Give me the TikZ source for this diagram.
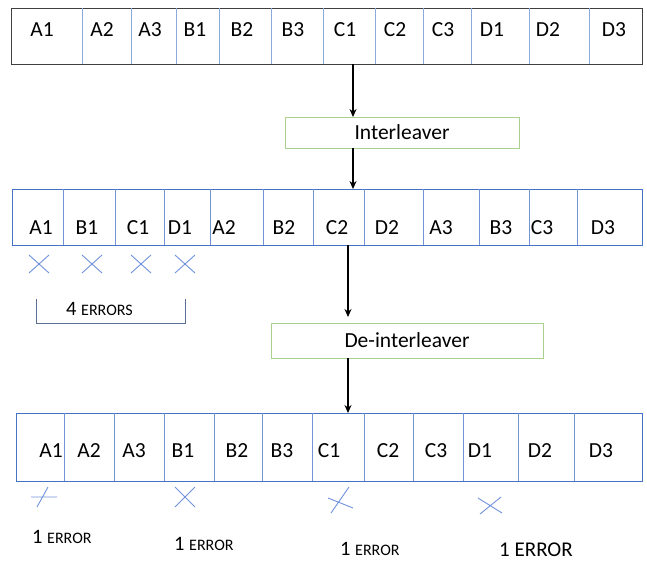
\documentclass[tikz,border=0pt]{standalone}
\usepackage{fontspec}
\setmainfont{Carlito}
\usetikzlibrary{arrows.meta}
\definecolor{frameA}{HTML}{404040}
\definecolor{divA}{HTML}{8EAADB}
\definecolor{frameB}{HTML}{4472C4}
\definecolor{divB}{HTML}{7393D4}
\definecolor{crossC}{HTML}{7092DB}
\definecolor{brackC}{HTML}{5B6F96}
\definecolor{greenC}{HTML}{A9D08E}
\tikzset{
  rowA/.style={draw=frameA, line width=1pt, inner sep=0pt, outer sep=0pt},
  rowB/.style={draw=frameB, line width=0.8pt, inner sep=0pt, outer sep=0pt},
  dividerA/.style={draw=divA, line width=0.8pt},
  dividerB/.style={draw=divB, line width=0.8pt},
  cell/.style={anchor=base, inner sep=0pt, font=\fontsize{21.5}{25}\selectfont},
  procbox/.style={draw=greenC, line width=1pt, inner sep=0pt, outer sep=0pt, font=\fontsize{21.5}{25}\selectfont},
  arr/.style={draw=black, line width=1.2pt, -{Stealth[length=8pt,width=7pt]}},
  xmark/.style={draw=crossC, line width=0.9pt},
  bracket/.style={draw=brackC, line width=0.9pt},
  errlbl/.style={anchor=base west, inner sep=0pt, font=\fontsize{20.5}{24}\selectfont},
}
\newcommand{\smallerr}[1]{{\fontsize{16}{19}\selectfont #1}}
\begin{document}
\begin{tikzpicture}[x=1pt,y=-1pt]
\useasboundingbox (0,0) rectangle (647,562);

% Row 1 (original)
\node[rowA, minimum width=631pt, minimum height=56pt] (r1) at (326.5,36) {};
\foreach \x in {82,131,176,219,271,323,375,423,471,529,589}
  \draw[dividerA] (\x,8) -- (\x,64);
\foreach \x/\t in {42/A1,102/A2,150/A3,195/B1,242/B2,293/B3,345/C1,395/C2,443/C3,492/D1,548/D2,614/D3}
  \node[cell] (r1-\t) at (\x,36) {\t};

% Interleaver
\node[procbox, minimum width=234pt, minimum height=31pt] (il) at (402,132.5) {Interleaver};

% Row 2 (interleaved)
\node[rowB, minimum width=630pt, minimum height=56pt] (r2) at (327,217) {};
\foreach \x in {63,115,164,210,263,313,364,423,479,529,577}
  \draw[dividerB] (\x,189) -- (\x,245);
\foreach \x/\t in {41/A1,87/B1,138/C1,180/D1,224/A2,284/B2,337/C2,387/D2,441/A3,501/B3,542/C3,603/D3}
  \node[cell] (r2-\t) at (\x,234) {\t};

% De-interleaver
\node[procbox, minimum width=272pt, minimum height=35pt] (dil) at (407,340.5) {De-interleaver};

% Row 3 (de-interleaved)
\node[rowB, minimum width=626pt, minimum height=68pt] (r3) at (329,447) {};
\foreach \x in {64,114,164,214,262,312,364,413,463,518,574}
  \draw[dividerB] (\x,413) -- (\x,481);
\foreach \x/\t in {51/A1,89/A2,134/A3,183/B1,237/B2,282/B3,329/C1,388/C2,436/C3,480/D1,540/D2,601/D3}
  \node[cell] (r3-\t) at (\x,457) {\t};

% Arrows
\coordinate (ax1) at (353,64);
\coordinate (ax2) at (348,245);
\draw[arr] (ax1) -- (ax1 |- il.north);
\draw[arr] (il.south -| ax1) -- (ax1 |- r2.north);
\draw[arr, shorten >=6pt] (ax2) -- (ax2 |- dil.north);
\draw[arr] (dil.south -| ax2) -- (ax2 |- r3.north);

% Burst errors under row 2
\foreach \x in {39,92,141,185}
  \draw[xmark] (\x,264) +(-10,-9) -- +(10,9) +(-10,9) -- +(10,-9);
\draw[bracket] (36,299) -- (36,323) -- (185,323) -- (185,299);
\node[errlbl] (e4) at (66,315) {4 \smallerr{ERRORS}};

% Scattered errors under row 3
\draw[xmark] (31,497) -- (57,497) (37,507) -- (48,487);
\draw[xmark] (185,497) +(-10,-10) -- +(10,10) +(-10,10) -- +(10,-10);
\draw[xmark] (328,498) -- (353,508) (331,513) -- (349,487);
\draw[xmark] (478,498) -- (502,513) (480,514) -- (501,497);

\node[errlbl] (e1a) at (32,543) {1 \smallerr{ERROR}};
\node[errlbl] (e1b) at (174,550) {1 \smallerr{ERROR}};
\node[errlbl] (e1c) at (340,555) {1 \smallerr{ERROR}};
\node[errlbl, font=\fontsize{21}{25}\selectfont] (e1d) at (499,556) {1 ERROR};
\end{tikzpicture}
\end{document}
